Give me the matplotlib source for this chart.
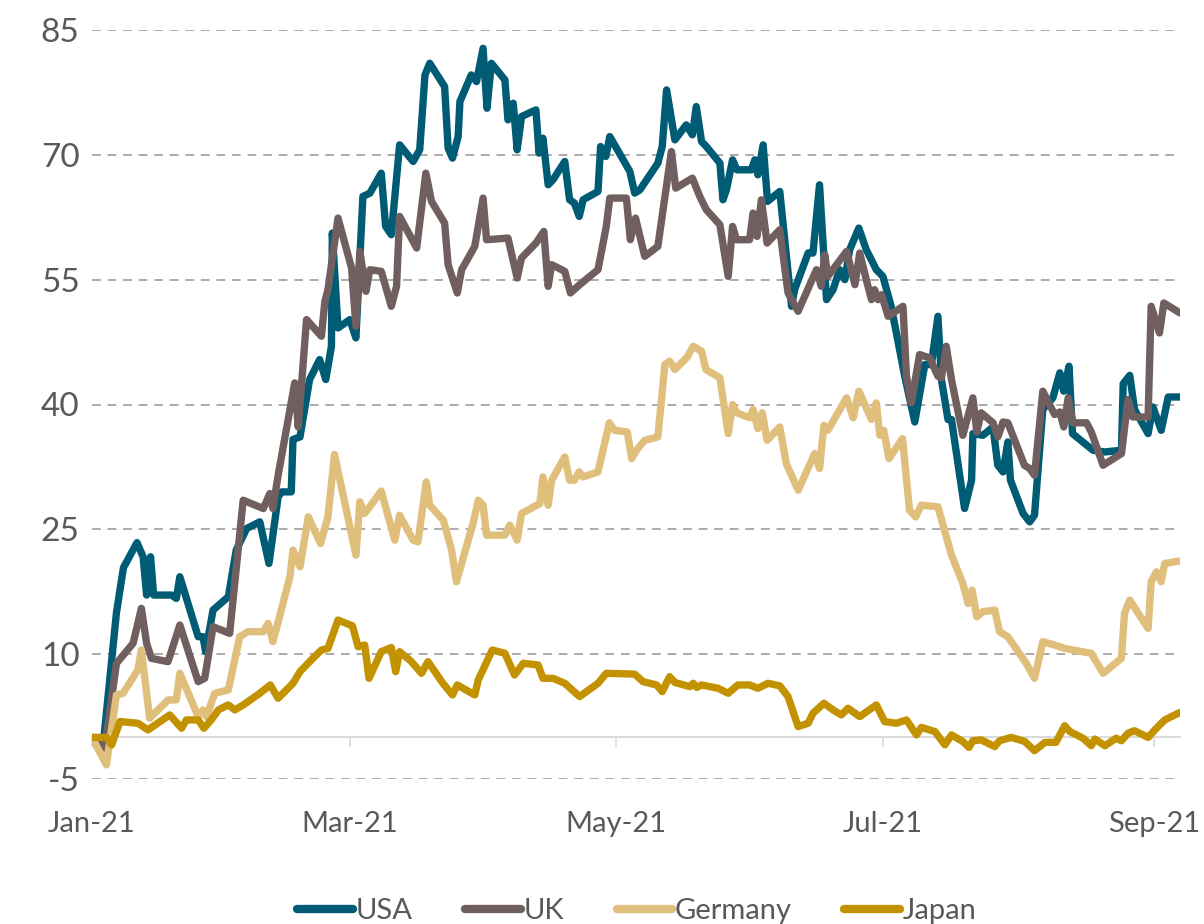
import matplotlib
matplotlib.use("Agg")
import matplotlib.pyplot as plt
import matplotlib.dates as mdates
import pandas as pd

plt.rcParams['font.family'] = ['Lato', 'DejaVu Sans']

# day offsets from 1 Jan 2021 and index values
usa_days = [0, 2.6, 5.6, 7.2, 10.3, 11.7, 12.5, 13.4, 14.1, 18.2, 19.3, 20.1, 24.3, 25.4, 26, 27.7, 31.2, 33, 35.4,
            38.4, 40.5, 42.6, 43.4, 45.6, 46, 47.6, 49.8, 52.1, 53.5, 54.8, 55, 56.3, 59, 60.4, 62, 63.6, 66.2, 67.2,
            68.5, 70.4, 73.5, 75, 76.2, 77.3, 80.7, 81.5, 82.5, 83.8, 84.2, 86.8, 88, 89.5, 90.4, 91.4, 94.5, 95.2,
            96.4, 97.3, 98.3, 101.6, 102.3, 103.2, 104.4, 105.5, 108.2, 109.3, 110.4, 111.5, 112.4, 115.8, 116.4,
            117.6, 118.5, 123.1, 124.2, 125.4, 129.5, 130.5, 131.5, 133.4, 136, 137.4, 138.3, 139.5, 140.6, 143.7,
            144.4, 145.2, 146.6, 147.6, 150.9, 151.7, 152.4, 153.6, 154.6, 157.4, 160.1, 160.8, 163.9, 165, 166.5,
            168.1, 169.6, 171.1, 172.3, 173.4, 175.5, 177.2, 179.5, 181, 182.9, 186, 188.3, 190.6, 192.1, 193.6,
            194.4, 195.9, 196.7, 199.7, 201.3, 201.6, 203.9, 206.2, 207.3, 208.5, 209.6, 210.2, 213.1, 214.6, 215.7,
            217.6, 219.9, 221.5, 222.4, 223.6, 224.4, 229.1, 231.8, 235.6, 236, 237.5, 238.6, 241.7, 242.8, 244.7,
            246.3, 249]
usa_vals = [0, -0.7, 15, 20.4, 23.4, 21.7, 17.1, 21.7, 17.1, 17.1, 16.7, 19.3, 12.1, 12.1, 10.3, 15.3, 16.9, 22.5, 25.1,
            25.9, 20.9, 28.9, 29.5, 29.5, 35.8, 36.1, 43, 45.4, 43, 47, 60.6, 49.2, 50.2, 48, 65, 65.4, 67.8, 61.4,
            60.4, 71.2, 69.2, 70.6, 79.6, 81, 78.2, 70.8, 69.6, 72.2, 76.4, 79.6, 78.8, 82.8, 75.6, 81, 79, 74.2,
            76.2, 70.6, 74.6, 75.4, 70.2, 72, 66.4, 67, 69.2, 64.6, 64.2, 62.6, 64.6, 65.6, 71,
            69.8, 72.2, 68, 65.4, 65.8, 69, 71, 77.8, 71.8, 73.6, 72.4, 75.8, 71.6, 71, 69,
            64.6, 65.8, 69.4, 68.2, 68.2, 69.4, 67.6, 71.2, 64.4, 65.6, 51.8, 53.8, 58.2, 58.2, 66.4,
            52.6, 53.8, 56.2, 55, 58.6, 61.2, 58.6, 56.2, 55.4, 51.8, 43.4, 37.9, 44.8, 44.8, 50.6,
            43, 38.2, 38.2, 27.5, 30.9, 36.5, 36.3, 37.3, 32.7, 31.9, 35.5, 30.9, 26.9, 25.9, 26.7,
            39.4, 40.8, 43.8, 41.6, 44.6, 36.5, 34.5, 34.3, 34.5, 42.5, 43.5, 39.4, 36.5, 39.7, 36.9,
            40.9, 40.9]

uk_days = [0, 2.9, 5.6, 9.4, 11.3, 12.5, 13.6, 17.4, 20.1, 24.3, 25.8, 27.7, 31.5, 34.6, 39.2, 40.7, 41.4, 42.6,
           46.4, 47.2, 49.1, 52.5, 53.3, 54, 56.3, 59.4, 60.4, 61.3, 62.7, 63.6, 66.2, 68.5, 69.7, 70.4, 74.3, 76.4,
           77.7, 80.7, 81.5, 83.6, 84.6, 87.6, 89.5, 90.3, 95.2, 97.3, 98.3, 101.6, 103.4, 104.4, 105.2, 108.2,
           109.5, 111.6, 115.8, 117.7, 118.5, 122.3, 123.2, 124.4, 126.5, 129.5, 132.6, 133.6, 137.4, 139.1, 140.6,
           143.7, 145.6, 146.6, 147.5, 150.5, 151.3, 152.2, 153.2, 154.5, 157.4, 159.3, 161.6, 165.8, 166.9, 167.7,
           168.4, 172.7, 174.6, 175.7, 177.2, 178.4, 179.1, 179.9, 180.7, 182.2, 185.6, 186.4, 187.5, 189.4, 191.7,
           193.6, 194.4, 195.5, 196.7, 199.3, 201.6, 202.5, 203.5, 206.2, 207.3, 208.5, 209.6, 213.4, 214.6, 215.7,
           217.6, 220.3, 221.5, 222.4, 223.4, 224.5, 227.6, 228.7, 231.4, 235.6, 237.1, 238.2, 241.7, 242.4, 244.3,
           245.3, 249]
uk_vals = [0, -1.3, 8.9, 11.3, 15.5, 11.3, 9.5, 9.1, 13.5, 6.7, 7.1, 13.3, 12.5, 28.5, 27.5, 29.3, 27.5, 31.5,
           42.6, 37.3, 50.2, 48.2, 52.4, 53.8, 62.4, 56.4, 49.4, 58.4, 53.6, 56.2, 56, 51.8, 54.2, 62.6, 58.8, 67.8,
           64.4, 61.8, 56.8, 53.4, 56.2, 59, 64.8, 59.8, 60, 55.2, 57.6, 59.4, 60.8, 54.2, 56.8, 56,
           53.4, 54.4, 56.2, 61.4, 64.8, 64.8, 59.8, 62.4, 57.8, 59, 70.4, 66, 67.2, 65, 63.4,
           61.6, 55.4, 61.4, 59.8, 59.8, 63, 60.2, 64.6, 59.4, 61, 53.4, 51.2, 56.2, 54.2, 58,
           55.4, 58.4, 54.4, 58.2, 55, 52.6, 53.8, 52.6, 53.2, 50.6, 51.8, 43.4, 40.2, 46, 45.6,
           43.4, 43.2, 47, 43, 36.3, 40.8, 36.7, 39, 37.8, 36.1, 37.9, 37.8, 32.7, 32.3, 31.5,
           41.6, 38.8, 39.1, 37.3, 40.8, 37.8, 37.8, 36.7, 32.7, 34.1, 40.6, 38.5, 38.5, 51.8, 48.6,
           52.2, 51]

germany_days = [0, 3.3, 5.6, 7.1, 10.5, 11.3, 13.2, 17.4, 19.3, 20.1, 24.3, 25.4, 26.2, 28.1, 31.2, 33.8, 35.7, 39.2,
                40.3, 41.4, 45.3, 46, 47.6, 49.5, 52.3, 54, 55.5, 60.4, 61.3, 62.4, 66.2, 69.3, 70.4, 73.5, 74.6, 76.5,
                77.3, 80.4, 82.3, 83.4, 87.2, 88.4, 89.5, 90.3, 94.5, 95.6, 97.3, 98.3, 102.5, 103.2, 104.4, 105.2,
                108.2, 109.3, 110.4, 111.5, 112.4, 115.8, 118.4, 119.6, 122.5, 123.5, 124.6, 126.5, 129.5, 131.1,
                132.2, 133.4, 136.2, 137.6, 139.5, 140.5, 143.7, 145.6, 146.6, 147.6, 150.5, 151.3, 152.4, 153.4,
                154.5, 157.4, 158.9, 161.6, 165.4, 166.5, 167.5, 168.4, 172.7, 174.2, 175.5, 178.4, 179.5, 180.3,
                181.2, 182.4, 185.5, 187.1, 188.5, 189.8, 193.6, 196.7, 199.3, 200.5, 201.4, 202.5, 203.9, 206.6,
                207.7, 209.6, 213.8, 215.7, 217.6, 220.3, 222.6, 224.5, 228.7, 231.4, 235.6, 236.3, 237.5, 241.7,
                242.4, 243.6, 244.7, 245.5, 249]
germany_vals = [0, -3.3, 5.1, 5.3, 8.1, 10.5, 2.3, 4.5, 4.5, 7.7, 2.5, 3.3, 2.5, 5.3, 5.7, 12.1, 12.7, 12.7,
                13.7, 11.5, 19.3, 22.5, 20.5, 26.5, 23.3, 26.5, 34, 21.9, 28.3, 26.9, 29.6, 23.7, 26.7, 23.7, 23.5, 30.7,
                27.9, 26.1, 22.5, 18.7, 25.7, 28.5, 27.9, 24.3, 24.3, 25.5, 23.7, 26.9, 28.1, 31.3, 27.9, 30.9,
                33.7, 30.9, 30.9, 31.9, 31.3, 31.9, 37.8, 36.9, 36.7, 33.5, 34.5, 35.7, 36.1, 44.8,
                45.2, 44.2, 45.7, 47, 46.4, 44.2, 43.2, 36.5, 40, 39, 38.4, 39.4, 37.1, 39,
                35.7, 37.3, 32.9, 29.7, 34.1, 32.3, 37.5, 36.9, 40.8, 38.4, 41.6, 38.2, 40.2, 36.3,
                36.9, 33.5, 35.9, 27.3, 26.5, 27.9, 27.7, 21.9, 18.5, 16.1, 17.7, 14.5, 15.1, 15.3,
                12.7, 12.1, 8.9, 7.1, 11.5, 11.1, 10.7, 10.5, 10.1, 7.7, 9.5, 14.9, 16.5, 13.1,
                18.7, 19.9, 18.7, 20.9, 21.2]

japan_days = [0, 3.3, 4.5, 6.4, 10.5, 12.8, 17.8, 20.5, 21.6, 24.3, 25.6, 27.3, 28.9, 31.2, 32.7, 34.6, 38.4, 40.8,
              42.6, 46, 47.6, 49.8, 52.5, 54, 56.3, 59.6, 60.9, 62.4, 63.4, 66.2, 68.5, 69.5, 70.4, 73.1, 75.4, 76.9,
              80.3, 82.5, 83.6, 87.6, 88.4, 91.6, 94.5, 96.7, 98.7, 102.1, 103.2, 105.5, 108.2, 111.6, 115.8, 117.7,
              124.2, 126.1, 129.2, 130.5, 132.2, 133.4, 136.8, 137.6, 138.4, 139.5, 143.3, 145.6, 147.8, 150.5,
              152.4, 154.7, 157.4, 159.3, 161.6, 163.9, 165, 167.5, 169.6, 171.5, 173, 175.7, 179.5, 181.4, 184.1,
              186.4, 188.7, 189.8, 192.9, 195.2, 196.7, 199.3, 200.7, 201.6, 203.5, 206.6, 207.7, 210.4, 213.5,
              215.7, 218.1, 220.6, 222.6, 223.8, 226.8, 228.7, 229.5, 231.8, 234.4, 235.6, 237.1, 238.6, 241.7,
              243.6, 245.5, 249]
japan_vals = [0, 0, -0.9, 1.9, 1.7, 0.9, 2.7, 1.1, 2.1, 2.1, 1.1, 2.1, 3.3, 3.9, 3.3, 3.9, 5.3, 6.3,
              4.7, 6.5, 7.9, 9.1, 10.5, 10.7, 14.1, 13.4, 10.9, 11.1, 7.1, 10.3, 10.8, 7.9, 10.3, 9.1, 7.7, 9.1,
              6.5, 5.1, 6.3, 5.1, 6.9, 10.5, 10.1, 7.5, 8.9, 8.7, 7.1, 7.1, 6.5, 4.9, 6.5, 7.7,
              7.6, 6.7, 6.3, 5.5, 7.3, 6.6, 6.1, 6.5, 6, 6.3, 5.9, 5.3, 6.3, 6.3,
              5.9, 6.5, 6.2, 4.9, 1.3, 1.7, 2.9, 4.1, 3.3, 2.7, 3.5, 2.5, 3.9, 1.9, 1.7,
              2.1, 0.3, 1.2, 0.7, -0.9, 0.3, -0.5, -1.2, -0.4, -0.3, -1.1, -0.4, 0, -0.5,
              -1.6, -0.6, -0.6, 1.4, 0.7, -0.1, -1, -0.2, -1, -0.1, -0.4, 0.5, 0.8, 0,
              1.1, 2.1, 3]

names = ["USA", "UK", "Germany", "Japan"]
colors = ["#005b74", "#715f60", "#e0bf7d", "#c39200"]
yticks = [-5, 10, 25, 40, 55, 70, 85]

start = pd.Timestamp("2021-01-01")


def to_dates(days):
    return start + pd.to_timedelta(days, unit="D")


series = [(usa_days, usa_vals), (uk_days, uk_vals), (germany_days, germany_vals), (japan_days, japan_vals)]

fig = plt.figure(figsize=(12.04, 9.24), dpi=100)
ax = fig.add_axes([92 / 1204, 1 - 779 / 924, (1180 - 92) / 1204, (779 - 30) / 924])

# dashed gridlines
for y in yticks:
    ax.axhline(y, color="#ababab", lw=1.4, ls=(0, (4.5, 3.5)), zorder=0)

for (d, v), name, c in zip(series, names, colors):
    ax.plot(to_dates(d), v, color=c, lw=5.3, label=name,
            solid_capstyle="round", solid_joinstyle="round", zorder=3)

ax.set_ylim(-5, 85)
ax.set_xlim(start, start + pd.Timedelta(days=249))
ax.set_yticks(yticks)
ax.set_yticklabels([str(t) for t in yticks])

ax.xaxis.set_major_locator(mdates.MonthLocator(bymonth=[1, 3, 5, 7, 9]))
ax.xaxis.set_major_formatter(mdates.DateFormatter("%b-%y"))

for s in ["top", "right", "left"]:
    ax.spines[s].set_visible(False)
ax.spines["bottom"].set_position(("data", 0))
ax.spines["bottom"].set_color("#d9d9d9")
ax.spines["bottom"].set_linewidth(1.4)
ax.spines["bottom"].set_zorder(1)

ax.tick_params(axis="x", direction="out", length=7, width=1.2, color="#d9d9d9",
               pad=46, labelsize=21, labelcolor="#595959")
ax.tick_params(axis="y", length=0, pad=9, labelsize=24, labelcolor="#595959")

leg = fig.legend(loc="center", bbox_to_anchor=(637 / 1204, 0.014), ncol=4, frameon=False,
                 fontsize=21, handlelength=1.9, handletextpad=0.1, columnspacing=1.8,
                 labelcolor="#595959")
for line in leg.get_lines():
    line.set_linewidth(6)

fig.savefig("out.png", dpi=100)
